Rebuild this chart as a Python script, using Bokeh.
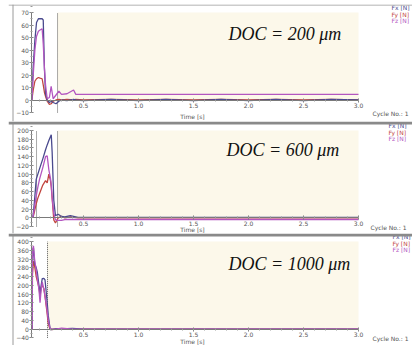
from bokeh.plotting import figure
from bokeh.layouts import column
from bokeh.models import Label, Span, FixedTicker, PrintfTickFormatter
from bokeh.embed import file_html
from bokeh.resources import INLINE

# ---------------- data ----------------
# Panel 1 : DOC = 200 um
T1 = [0.03, 0.043, 0.058, 0.073, 0.09, 0.105, 0.124, 0.134, 0.145, 0.155, 0.17, 0.19, 0.206,
      0.224, 0.25, 0.276, 0.3, 0.35, 0.41, 0.43, 0.5, 0.75, 1.0, 1.25, 1.5, 1.75, 2.0, 2.25,
      2.5, 2.75, 3.0]
FX1 = [0, 27, 48, 62, 65, 65, 65, 64, 25, 5, 0, -2, -1, -2, -3, -1, 0, -0.5, 0.5, 0, -0.5,
       0.5, -0.5, 0.5, -0.5, 0.5, -0.5, 0.5, -0.5, 0.5, 0]
FY1 = [0, 8, 15, 17, 18, 17.5, 17, 12, 6, 3, -1, -3.5, -3, -1, 0, 0.5, 0, 0.5, 0, 0.5, 0,
       0.5, 0, 0.5, 0, 0.5, 0, 0.5, 0, 0.5, 0]
FZ1 = [0, 20, 40, 51, 55, 56, 57, 45, 25, 12, 1, 2, 11, 1, 4, 7, 4.5, 5, 8, 4.5, 4.5, 4.5,
       4.5, 4.5, 4.5, 4.5, 4.5, 4.5, 4.5, 4.5, 4.5]

# Panel 2 : DOC = 600 um
T2 = [0.04, 0.055, 0.07, 0.085, 0.1, 0.13, 0.155, 0.17, 0.185, 0.2, 0.207, 0.215, 0.23,
      0.245, 0.27, 0.3, 0.33, 0.38, 0.45, 0.5, 0.75, 1.0, 1.25, 1.5, 1.75, 2.0, 2.25, 2.5,
      2.75, 3.0]
FX2 = [0, 40, 88, 100, 112, 135, 156, 167, 177, 186, 190, 150, 40, 5, 8, 3, 2, 5, 1, 1, 1,
       1, 1, 1, 1, 1, 1, 1, 1, 1]
FY2 = [0, 15, 32, 45, 55, 75, 85, 80, 100, 85, 70, 45, -5, -12, 0, 3, 0, 2, 0, 0, 0, 0, 0,
       0, 0, 0, 0, 0, 0, 0]
FZ2 = [0, 25, 50, 70, 88, 115, 140, 142, 110, 90, 75, 45, 10, -5, -6, -6, -4, -4, -4, -4,
       -4, -4, -4, -4, -4, -4, -4, -4, -4, -4]

# Panel 3 : DOC = 1000 um
T3 = [0.033, 0.036, 0.045, 0.055, 0.07, 0.08, 0.095, 0.105, 0.115, 0.125, 0.14, 0.15,
      0.165, 0.18, 0.195, 0.21, 0.25, 0.3, 0.4, 0.5, 0.75, 1.0, 1.5, 2.0, 2.5, 3.0]
FX3 = [0, 330, 370, 300, 280, 260, 200, 160, 200, 230, 232, 225, 150, 60, 5, -3, 2, 1, 3,
       0, 0, 0, 0, 0, 0, 0]
FY3 = [0, 250, 310, 290, 240, 220, 190, 150, 190, 200, 185, 150, 90, 25, 0, -2, 0, 0, 0,
       0, 0, 0, 0, 0, 0, 0]
FZ3 = [0, 360, 380, 320, 270, 230, 180, 120, 180, 215, 180, 150, 100, 40, 5, 0, 0, 4, 0,
       0, 0, 0, 0, 0, 0, 0]

YTICKS1 = [-10, 0, 10, 20, 30, 40, 50, 60, 70]
YTICKS2 = [-20, 0, 20, 40, 60, 80, 100, 120, 140, 160, 180, 200]
YTICKS3 = [-40, 0, 40, 80, 120, 160, 200, 240, 280, 320, 360, 400]
XTICKS = [0.5, 1.0, 1.5, 2.0, 2.5, 3.0]
DOTTED1 = [0.264]
DOTTED2 = [0.073, 0.264]
DOTTED3 = [0.173]
DOC_LABELS = ["DOC = 200 \u03bcm", "DOC = 600 \u03bcm", "DOC = 1000 \u03bcm"]
SERIES = ["Fx [N]", "Fy [N]", "Fz [N]"]
X_LABEL = "Time [s]"
CYCLE = "Cycle No.: 1"

COLORS = ["#4a4a8e", "#c2453f", "#b356c0"]
CREAM = "#fcf8ea"
GREY = "#9a9a9a"

# ---------------- layout helpers (page pixels -> data) ----------------
PAGE_LEFT, PAGE_RIGHT = 8, 412


def tx(px):
    return (px - 28.0) / 110.0


def make_panel(t, fx, fy, fz, yticks, dotted, doc, top, bottom, hi, lo, geo, first):
    (yh, ph), (yl, pl) = hi, lo
    scale = (pl - ph) / (yh - yl)

    def yd(py):
        return yh - (py - ph) / scale

    p = figure(width=PAGE_RIGHT - PAGE_LEFT, height=bottom - top,
               x_range=(tx(PAGE_LEFT), tx(PAGE_RIGHT)), y_range=(yd(bottom), yd(top)),
               output_backend="svg", toolbar_location=None, min_border=0,
               min_border_left=0, min_border_right=0, min_border_top=0, min_border_bottom=0)
    p.outline_line_color = None
    p.grid.visible = False
    p.background_fill_color = "white"
    p.border_fill_color = "white"

    # cream plotting area
    p.quad(left=[dotted[-1]], right=[XTICKS[-1]], bottom=[0], top=[yticks[-1]],
           fill_color=CREAM, line_color=None)

    # axes crossing at zero
    xa = p.xaxis[0]
    xa.fixed_location = 0
    xa.bounds = (0.03, XTICKS[-1])
    xa.ticker = FixedTicker(ticks=XTICKS, minor_ticks=[i / 10 for i in range(1, 31)])
    xa.formatter = PrintfTickFormatter(format="%.1f")
    ya = p.yaxis[0]
    ya.fixed_location = 0.03
    ya.bounds = (yticks[0], yticks[-1])
    step = yticks[-1] - yticks[-2]
    ya.ticker = FixedTicker(ticks=yticks,
                            minor_ticks=[yticks[0] + step * k / 2 for k in range(2 * len(yticks))])
    for ax in (xa, ya):
        ax.axis_line_color = "#7a7a7a"
        ax.major_tick_line_color = "#7a7a7a"
        ax.minor_tick_line_color = "#9a9a9a"
        ax.major_tick_in = 2
        ax.major_tick_out = 2
        ax.minor_tick_in = 1
        ax.minor_tick_out = 1
        ax.major_label_text_font_size = "6px"
        ax.major_label_text_color = "#555555"
        ax.major_label_text_font = "DejaVu Sans"
        ax.major_label_standoff = 1

    # dotted markers
    p.segment(x0=dotted, y0=[yticks[0]] * len(dotted), x1=dotted, y1=[yticks[-1]] * len(dotted),
              line_color="#555555", line_dash="1 1", line_width=1)

    # force curves
    p.line(t, fy, line_color=COLORS[1], line_width=1.3)
    p.line(t, fx, line_color=COLORS[0], line_width=1.3)
    p.line(t, fz, line_color=COLORS[2], line_width=1.3)

    # texts
    p.add_layout(Label(x=tx(geo["doc"][0]), y=yd(geo["doc"][1]), text=doc,
                       text_font="Liberation Serif", text_font_style="italic",
                       text_font_size="18px", text_color="#111111",
                       text_align="left", text_baseline="middle"))
    lx, ly = geo["legend"]
    for i, (name, col) in enumerate(zip(SERIES, COLORS)):
        p.add_layout(Label(x=tx(lx), y=yd(ly + 6.5 * i), text=name, text_font_size="6px",
                           text_font="DejaVu Sans", text_color=col,
                           text_align="left", text_baseline="middle"))
    p.add_layout(Label(x=tx(geo["time"][0]), y=yd(geo["time"][1]), text=X_LABEL,
                       text_font_size="6px", text_font="DejaVu Sans", text_color="#555555",
                       text_align="center", text_baseline="middle"))
    p.add_layout(Label(x=tx(geo["cycle"][0]), y=yd(geo["cycle"][1]), text=CYCLE,
                       text_font_size="6px", text_font="DejaVu Sans", text_color="#555555",
                       text_align="left", text_baseline="middle"))

    # panel frame lines
    p.add_layout(Span(location=tx(12.5), dimension="height", line_color=GREY, line_width=1))
    if first:
        p.add_layout(Span(location=yd(top + 0.5), dimension="width", line_color=GREY,
                          line_width=1))
    else:
        p.add_layout(Span(location=yd(top + 1.5), dimension="width", line_color="#8a8a8a",
                          line_width=3))
    return p


p1 = make_panel(T1, FX1, FY1, FZ1, YTICKS1, DOTTED1, DOC_LABELS[0], 4, 121,
                (70, 12), (-10, 112),
                {"doc": (228, 33), "legend": (391, 7), "time": (192, 116), "cycle": (372, 113)},
                True)
p2 = make_panel(T2, FX2, FY2, FZ2, YTICKS2, DOTTED2, DOC_LABELS[1], 121, 233,
                (200, 130), (-20, 226),
                {"doc": (226, 149), "legend": (388, 125), "time": (192, 229), "cycle": (370, 227)},
                False)
p3 = make_panel(T3, FX3, FY3, FZ3, YTICKS3, DOTTED3, DOC_LABELS[2], 233, 345,
                (400, 241), (-40, 337.3),
                {"doc": (228, 263), "legend": (392, 236), "time": (192, 341), "cycle": (372, 338)},
                False)

layout = column(p1, p2, p3, spacing=0, margin=(4, 0, 0, 8))
open("out.html", "w").write(file_html(layout, INLINE))
